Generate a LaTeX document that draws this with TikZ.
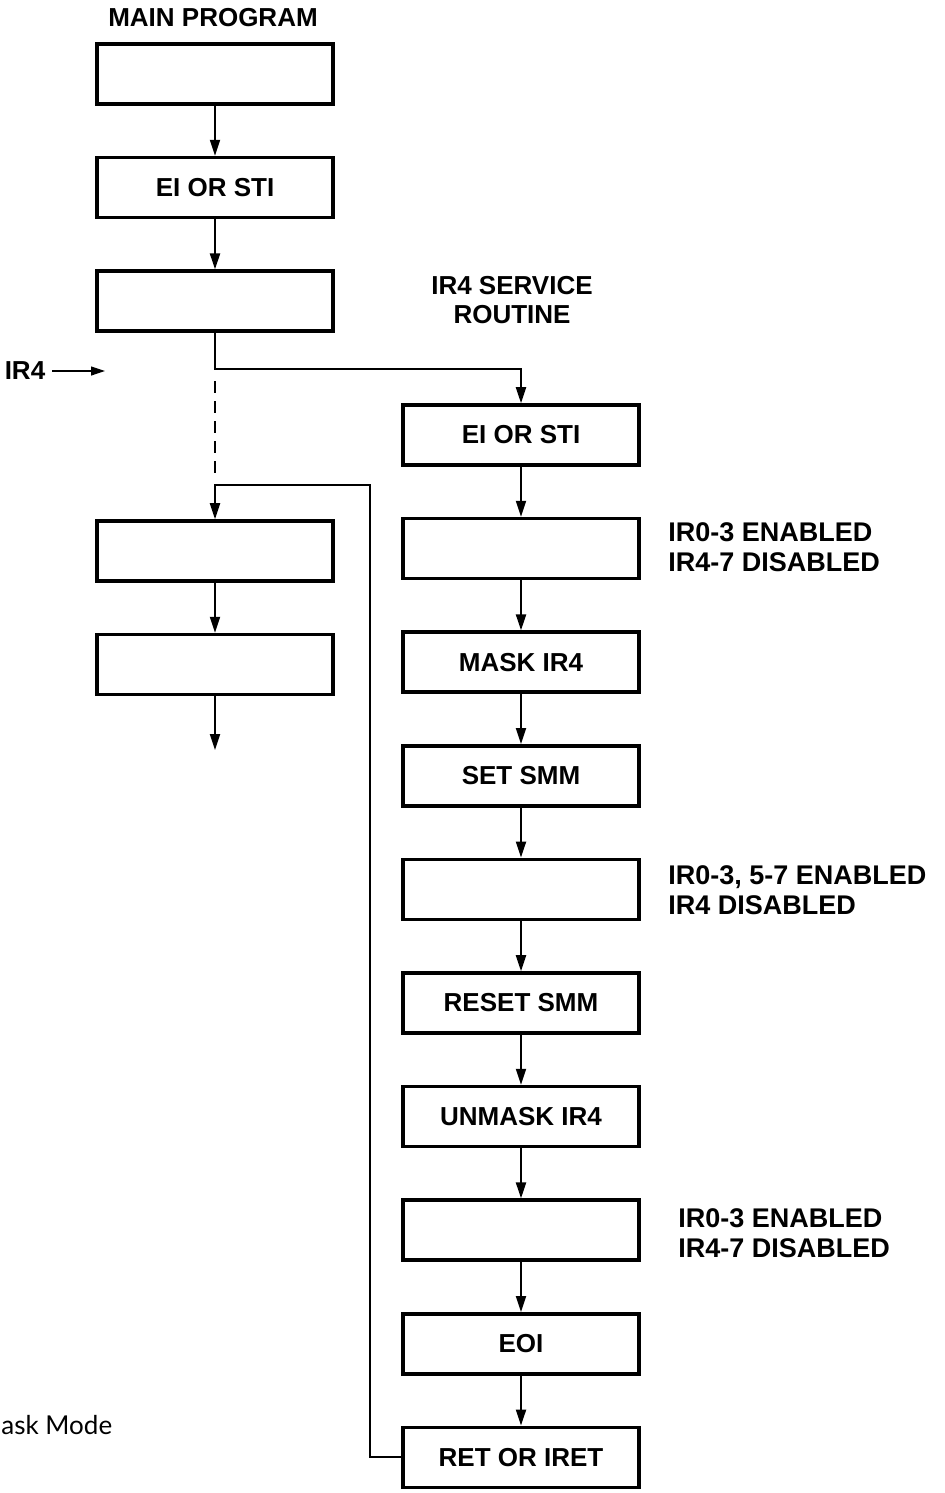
\documentclass[tikz,border=0pt]{standalone}
\usepackage{fontspec}
\setmainfont{Liberation Sans}
\newfontfamily\capfont{Lato}
\usetikzlibrary{positioning, arrows.meta}
\tikzset{
  stepbox/.style={
    draw, line width=1.8pt,
    minimum width=118pt,
    minimum height=30pt,
    inner sep=2pt,
    font=\bfseries\fontsize{13}{15}\selectfont
  },
  flow/.style={
    -{Triangle[length=8pt,width=5pt]},
    line width=1pt
  },
  thinflow/.style={
    -{Triangle[length=7pt,width=4.5pt]},
    line width=0.6pt
  },
  note/.style={
    anchor=west, align=left, inner sep=0pt,
    font=\bfseries\fontsize{13.5}{15}\selectfont
  },
  heading/.style={
    align=center, inner sep=0pt,
    font=\bfseries\fontsize{13}{14.5}\selectfont
  }
}

\begin{document}
\begin{tikzpicture}[x=0.5pt, y=-0.5pt, node distance=25pt]
  \useasboundingbox (0,0) rectangle (944,1493);

  % main program
  \node[heading] (mainhd) at (213,18) {MAIN PROGRAM};
  \node[stepbox] (m1) at (215,74) {};
  \node[stepbox, below=of m1] (m2) {EI OR STI};
  \node[stepbox, below=of m2] (m3) {};
  \node[stepbox] (m4) at (215,551) {};
  \node[stepbox, below=of m4] (m5) {};

  % interrupt request
  \node[font=\bfseries\fontsize{13}{15}\selectfont] (ir4) at (25,371) {IR4};
  \coordinate (irtip) at (105,371);

  % service routine
  \node[heading] (srvhd) at (512,300) {IR4 SERVICE\\ROUTINE};
  \node[stepbox] (r1) at (521,435) {EI OR STI};
  \node[stepbox, below=of r1] (r2) {};
  \node[stepbox, below=of r2] (r3) {MASK IR4};
  \node[stepbox, below=of r3] (r4) {SET SMM};
  \node[stepbox, below=of r4] (r5) {};
  \node[stepbox, below=of r5] (r6) {RESET SMM};
  \node[stepbox, below=of r6] (r7) {UNMASK IR4};
  \node[stepbox, below=of r7] (r8) {};
  \node[stepbox, below=of r8] (r9) {EOI};
  \node[stepbox, below=of r9] (r10) {RET OR IRET};

  % mask states
  \node[note] (n2) at (668,547) {IR0-3 ENABLED\\IR4-7 DISABLED};
  \node[note] (n5) at (668,890) {IR0-3, 5-7 ENABLED\\IR4 DISABLED};
  \node[note] (n8) at (678,1233) {IR0-3 ENABLED\\IR4-7 DISABLED};

  \node[anchor=west, inner sep=0pt, font=\capfont\fontsize{13}{15}\selectfont] (cap) at (1,1425) {ask Mode};

  \coordinate (split) at (215,369);
  \coordinate (dtop) at (215,381);
  \coordinate (dbot) at (215,475);
  \coordinate (ret) at (370,485);
  \coordinate (out) at (215,750);

  \draw[flow] (m1) -- (m2);
  \draw[flow] (m2) -- (m3);
  \draw[flow] (m3.south) -- (split) -| (r1.north);
  \draw[line width=1pt, dash pattern=on 6pt off 4pt] (dtop) -- (dbot);
  \draw[flow] (r10.west) -| (ret) -| (m4.north);
  \draw[flow] (m4) -- (m5);
  \draw[flow] (m5) -- (out);
  \draw[thinflow] (ir4.east) -- (irtip);

  \draw[flow] (r1) -- (r2);
  \draw[flow] (r2) -- (r3);
  \draw[flow] (r3) -- (r4);
  \draw[flow] (r4) -- (r5);
  \draw[flow] (r5) -- (r6);
  \draw[flow] (r6) -- (r7);
  \draw[flow] (r7) -- (r8);
  \draw[flow] (r8) -- (r9);
  \draw[flow] (r9) -- (r10);
\end{tikzpicture}
\end{document}
